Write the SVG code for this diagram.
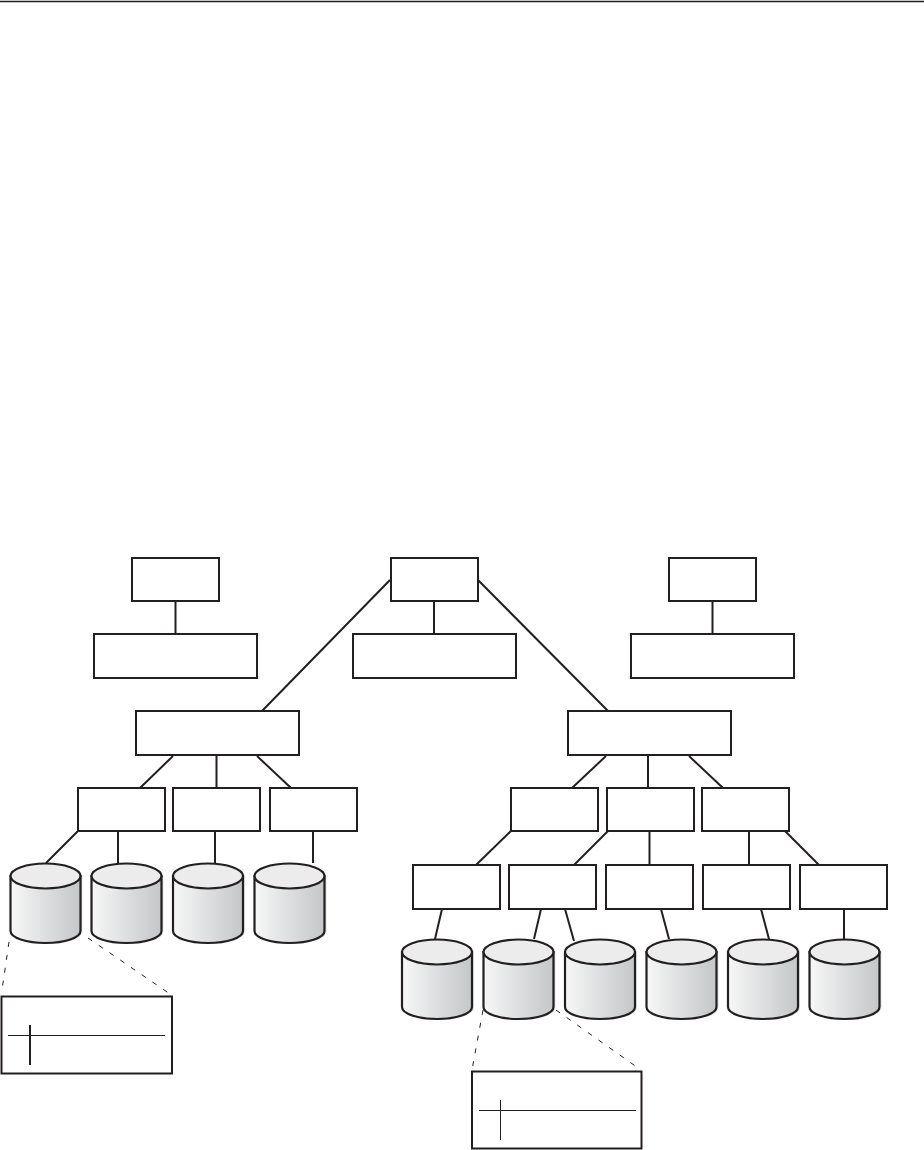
<svg xmlns="http://www.w3.org/2000/svg" xmlns:xlink="http://www.w3.org/1999/xlink" width="924" height="1150" viewBox="0 0 924 1150">
<style>
.b{fill:#fff;stroke:#231f20;stroke-width:2}
.c{fill:none;stroke:#231f20;stroke-width:2}
.d{fill:none;stroke:#231f20;stroke-width:1;stroke-dasharray:5 8}
.t{fill:none;stroke:#231f20;stroke-width:1}
</style>
<defs>
<linearGradient id="g"><stop offset="0" stop-color="#f7f7f7"/><stop offset="1" stop-color="#c4c6c8"/></linearGradient>
<g id="cyl">
<path d="M2 13V69A35 12 0 0 0 72 69V13A35 12 0 0 0 2 13Z" fill="#d8d8d8" opacity=".7"/>
<path d="M0 13V68A35 12 0 0 0 70 68V13Z" fill="url(#g)" stroke="#231f20" stroke-width="2.200"/>
<ellipse cx="35" cy="13" rx="35" ry="12.500" fill="#ececec" stroke="#231f20" stroke-width="2.200"/>
</g>
</defs>
<rect width="924" height="1150" fill="#fff"/>
<path d="M0 1.500H924" stroke="#231f20" stroke-width="1.500"/>
<g id="connectors">
<path class="c" d="M175.500 601V634M434 601V634M712.500 601V634M390 580L262 711M478 580L608 711M173 756L140 788M216.500 756V788M257 756L291 788M606 756L572 788M648 756V788M689 756L723 788M78 831L46 863M118 831V863M215 831V863M313 831V863M511 831L476 865M608 831L574 865M649.500 831V865M749 831V865M785 831L819 865M442 909L435 939M541 909L534 939M565 909L574 941M661 909L669 939M761 909L769 939M844 909V939"/>
<path class="d" d="M9 942L2 990M88 938L170 994M483 1010L472 1070M556 1010L641 1070"/>
</g>
<g id="n1"><rect class="b" x="132" y="558" width="87" height="43"/></g>
<g id="n2"><rect class="b" x="391" y="558" width="87" height="43"/></g>
<g id="n3"><rect class="b" x="669" y="558" width="87" height="43"/></g>
<g id="n4"><rect class="b" x="94" y="634" width="163" height="44"/></g>
<g id="n5"><rect class="b" x="353" y="634" width="163" height="44"/></g>
<g id="n6"><rect class="b" x="631" y="634" width="163" height="44"/></g>
<g id="n7"><rect class="b" x="136" y="711" width="163" height="44"/></g>
<g id="n8"><rect class="b" x="568" y="711" width="163" height="44"/></g>
<g id="n9"><rect class="b" x="78" y="788" width="87" height="43"/></g>
<g id="n10"><rect class="b" x="173" y="788" width="87" height="43"/></g>
<g id="n11"><rect class="b" x="270" y="788" width="87" height="43"/></g>
<g id="n12"><rect class="b" x="511" y="788" width="87" height="43"/></g>
<g id="n13"><rect class="b" x="607" y="788" width="87" height="43"/></g>
<g id="n14"><rect class="b" x="702" y="788" width="87" height="43"/></g>
<g id="n15"><rect class="b" x="413" y="865" width="87" height="44"/></g>
<g id="n16"><rect class="b" x="509" y="865" width="87" height="44"/></g>
<g id="n17"><rect class="b" x="606" y="865" width="87" height="44"/></g>
<g id="n18"><rect class="b" x="703" y="865" width="87" height="44"/></g>
<g id="n19"><rect class="b" x="800" y="865" width="87" height="44"/></g>
<g id="d1"><use xlink:href="#cyl" href="#cyl" x="10.500" y="863"/></g>
<g id="d2"><use xlink:href="#cyl" href="#cyl" x="91.500" y="863"/></g>
<g id="d3"><use xlink:href="#cyl" href="#cyl" x="173" y="863"/></g>
<g id="d4"><use xlink:href="#cyl" href="#cyl" x="254.500" y="863"/></g>
<g id="d5"><use xlink:href="#cyl" href="#cyl" x="402" y="939"/></g>
<g id="d6"><use xlink:href="#cyl" href="#cyl" x="483.500" y="939"/></g>
<g id="d7"><use xlink:href="#cyl" href="#cyl" x="565" y="939"/></g>
<g id="d8"><use xlink:href="#cyl" href="#cyl" x="646.500" y="939"/></g>
<g id="d9"><use xlink:href="#cyl" href="#cyl" x="728" y="939"/></g>
<g id="d10"><use xlink:href="#cyl" href="#cyl" x="809.500" y="939"/></g>
<g id="t1"><rect class="b" x="1.500" y="996.500" width="170.500" height="77"/><path class="t" d="M8 1035.500H165"/><path class="c" d="M30 1025V1065"/></g>
<g id="t2"><rect class="b" x="472" y="1071.500" width="169.500" height="77"/><path class="t" d="M479 1110.500H636"/><path class="t" d="M500.500 1100V1140"/></g>
</svg>
